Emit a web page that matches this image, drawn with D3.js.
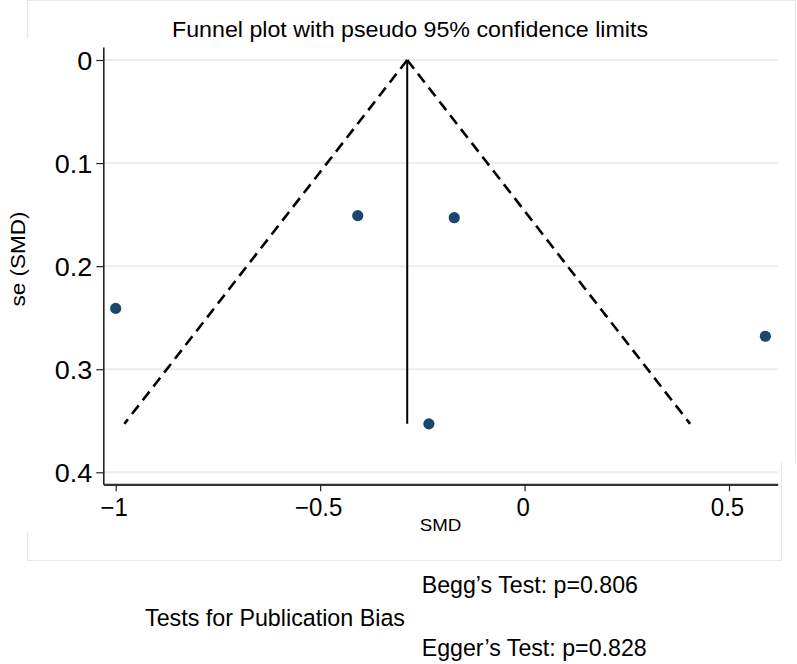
<!DOCTYPE html>
<html>
<head>
<meta charset="utf-8">
<script src="https://cdn.jsdelivr.net/npm/d3@7"></script>
<style>
  html, body { margin: 0; padding: 0; background: #ffffff; }
  svg { display: block; }
  text { font-family: "Liberation Sans", Arial, Helvetica, sans-serif; fill: #000; }
</style>
</head>
<body>
<svg id="chart" width="797" height="664"></svg>
<script>
// ---- data ----
const studySMD = [-1.000, -0.408, -0.172, -0.234, 0.589];
const studySE  = [0.241, 0.151, 0.153, 0.353, 0.268];
const pooledSMD = -0.287;
const xTicks = [-1, -0.5, 0, 0.5];
const yTicks = [0, 0.1, 0.2, 0.3, 0.4];
const titleText = "Funnel plot with pseudo 95% confidence limits";
const xTitle = "SMD";
const yTitle = "se (SMD)";
const noteHeader = "Tests for Publication Bias";
const noteLines = ["Begg\u2019s Test: p=0.806", "Egger\u2019s Test: p=0.828"];

// ---- layout ----
const W = 797, H = 664;
const plot = { left: 103.3, right: 777.7, top: 47, bottom: 484.3 };
const svg = d3.select("#chart");

const x = d3.scaleLinear().domain([-1, 0.5]).range([115.7, 729]);
x.domain([x.invert(plot.left), x.invert(plot.right)]).range([plot.left, plot.right]);
const y = d3.scaleLinear().domain([0, 0.4]).range([60, 472.3]);
y.domain([y.invert(plot.top), y.invert(plot.bottom)]).range([plot.top, plot.bottom]);

function stretch(sel, k) {
  sel.each(function () {
    const w = this.getComputedTextLength();
    d3.select(this).attr("textLength", w * k).attr("lengthAdjust", "spacingAndGlyphs");
  });
}
function fitTo(sel, width) {
  sel.attr("textLength", width).attr("lengthAdjust", "spacingAndGlyphs");
}

// ---- faint outer frame ----
const frame = d3.path();
frame.moveTo(27.5, 38); frame.lineTo(27.5, 0.5); frame.lineTo(795.5, 0.5); frame.lineTo(795.5, 462);
frame.moveTo(781.5, 462); frame.lineTo(781.5, 560.5); frame.lineTo(27.5, 560.5); frame.lineTo(27.5, 532);
svg.append("path").attr("d", frame.toString())
  .attr("fill", "none").attr("stroke", "#e4e8e8").attr("stroke-width", 1.2);

// ---- gridlines ----
svg.append("g").selectAll("line").data(yTicks).join("line")
  .attr("x1", plot.left).attr("x2", plot.right)
  .attr("y1", d => y(d)).attr("y2", d => y(d))
  .attr("stroke", "#e6eeee").attr("stroke-width", 2);

// ---- axes ----
const yAxis = svg.append("g").attr("transform", `translate(${plot.left},0)`)
  .call(d3.axisLeft(y).tickValues(yTicks).tickSize(7).tickSizeOuter(0).tickPadding(4)
    .tickFormat(d3.format("~g")));
yAxis.select(".domain").attr("stroke", "#222").attr("stroke-width", 1.6);
yAxis.selectAll(".tick line").attr("stroke", "#222").attr("stroke-width", 1.2);
yAxis.selectAll(".tick text")
  .style("font-family", '"Liberation Sans", Arial, sans-serif')
  .attr("font-size", 25).attr("dy", "0.36em").attr("fill", "#000");
stretch(yAxis.selectAll(".tick text"), 1.08);

const xAxis = svg.append("g").attr("transform", `translate(0,${plot.bottom})`)
  .call(d3.axisBottom(x).tickValues(xTicks).tickSize(7).tickSizeOuter(0)
    .tickFormat(d3.format("~g")));
xAxis.select(".domain").attr("stroke", "#333").attr("stroke-width", 2.2);
xAxis.selectAll(".tick line").attr("stroke", "#222").attr("stroke-width", 1.2);
xAxis.selectAll(".tick text")
  .style("font-family", '"Liberation Sans", Arial, sans-serif')
  .attr("font-size", 25).attr("y", 31.5).attr("dy", null).attr("dx", -2).attr("fill", "#000");
stretch(xAxis.selectAll(".tick text"), 0.96);

// ---- funnel ----
const seMax = d3.max(studySE);
const funnel = [
  [[pooledSMD, 0], [pooledSMD - 1.96 * seMax, seMax]],
  [[pooledSMD, 0], [pooledSMD + 1.96 * seMax, seMax]]
];
const line = d3.line().x(d => x(d[0])).y(d => y(d[1]));
svg.append("g").selectAll("path").data(funnel).join("path")
  .attr("d", line)
  .attr("fill", "none").attr("stroke", "#000").attr("stroke-width", 2.6)
  .attr("stroke-dasharray", "11,6.5");
svg.append("path")
  .attr("d", line([[pooledSMD, 0], [pooledSMD, seMax]]))
  .attr("fill", "none").attr("stroke", "#000").attr("stroke-width", 2);

// ---- study points ----
svg.append("g").selectAll("circle").data(studySMD.map((d, i) => [d, studySE[i]])).join("circle")
  .attr("cx", d => x(d[0])).attr("cy", d => y(d[1])).attr("r", 5.6)
  .attr("fill", "#1a476f");

// ---- titles ----
svg.append("text").attr("x", 410).attr("y", 37.3).attr("text-anchor", "middle")
  .attr("font-size", 22).text(titleText).call(fitTo, 476);
svg.append("text").attr("x", (plot.left + plot.right) / 2).attr("y", 530.7)
  .attr("text-anchor", "middle").attr("font-size", 17).text(xTitle).call(fitTo, 41.6);
svg.append("text").attr("transform", "translate(25,259) rotate(-90)")
  .attr("text-anchor", "middle").attr("font-size", 20).text(yTitle).call(fitTo, 95);

// ---- notes ----
svg.append("text").attr("x", 145).attr("y", 626).attr("font-size", 24.5)
  .text(noteHeader).call(fitTo, 260);
const noteWidths = [216.3, 225];
svg.append("g").selectAll("text").data(noteLines).join("text")
  .attr("x", 421.7).attr("y", (d, i) => i === 0 ? 593.3 : 655.7)
  .attr("font-size", 23.3).text(d => d)
  .each(function (d, i) { d3.select(this).call(fitTo, noteWidths[i]); });
</script>
</body>
</html>
